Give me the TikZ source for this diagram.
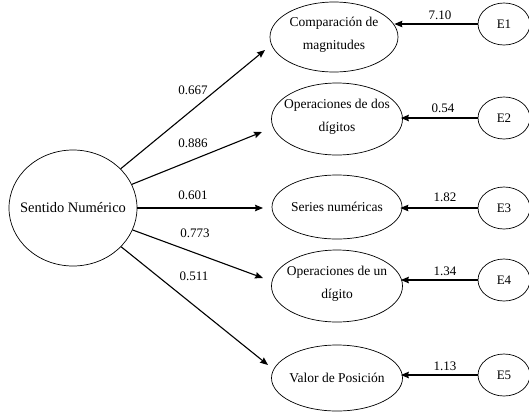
\documentclass[tikz,border=0pt]{standalone}
\usepackage{fontspec}
\setmainfont{Liberation Serif}
\usetikzlibrary{shapes.geometric,arrows.meta}
\begin{document}
\begin{tikzpicture}[x=1pt,y=-1pt,
  ell/.style={draw, ellipse, line width=0.7pt, inner sep=0pt},
  arr/.style={line width=1.1pt, -{Stealth[length=8pt,width=6.5pt,inset=1pt]}},
  lbl/.style={font=\fontsize{13}{15}\selectfont, inner sep=0pt},
  txt/.style={font=\fontsize{13.5}{23}\selectfont, align=center, inner sep=0pt},
  enode/.style={ell, minimum width=52pt, minimum height=42pt, font=\fontsize{13}{15}\selectfont}]
\useasboundingbox (0,0) rectangle (529,413);
% latent
\node[ell, minimum width=128pt, minimum height=116pt] (S) at (73,208) {};
\node[txt, font=\fontsize{14.5}{17}\selectfont] (St) at (S.center) {Sentido Numérico};
% indicators
\node[ell, minimum width=128pt, minimum height=70pt] (C1) at (334,37) {};
\node[txt] (C1t) at (334,35) {Comparación de\\magnitudes};
\node[ell, minimum width=131pt, minimum height=72pt] (C2) at (337,119) {};
\node[txt] (C2t) at (337,117) {Operaciones de dos\\dígitos};
\node[ell, minimum width=130pt, minimum height=64pt] (C3) at (337,207) {};
\node[txt] (C3t) at (C3.center) {Series numéricas};
\node[ell, minimum width=131pt, minimum height=72pt] (C4) at (337,286) {};
\node[txt] (C4t) at (337,284) {Operaciones de un\\dígito};
\node[ell, minimum width=131pt, minimum height=66pt] (C5) at (337,378) {};
\node[txt] (C5t) at (C5.center) {Valor de Posición};
% errors
\node[enode] (E1) at (504,24) {E1};
\node[enode] (E2) at (504,118) {E2};
\node[enode] (E3) at (504,208) {E3};
\node[enode] (E4) at (504,280) {E4};
\node[enode] (E5) at (504,375) {E5};
% arrow tips from latent
\coordinate (t1) at (265,50);
\coordinate (t2) at (262,132);
\coordinate (t3) at (263,208);
\coordinate (t4) at (263,278);
\coordinate (t5) at (268,365);
\draw[arr] (S) -- (t1);
\draw[arr] (S) -- (t2);
\draw[arr] (S) -- (t3);
\draw[arr] (S) -- (t4);
\draw[arr] (S) -- (t5);
\node[lbl] (l1) at (193,90) {0.667};
\node[lbl] (l2) at (193,143) {0.886};
\node[lbl] (l3) at (193,195) {0.601};
\node[lbl] (l4) at (195,233) {0.773};
\node[lbl] (l5) at (194,276) {0.511};
% error arrows
\draw[arr, shorten >=-4pt] (E1.west) -- (E1.west -| C1.east);
\draw[arr, shorten >=-2pt] (E2.west) -- (E2.west -| C2.east);
\draw[arr, shorten >=-2pt] (E3.west) -- (E3.west -| C3.east);
\draw[arr, shorten >=-2pt] (E4.west) -- (E4.west -| C4.east);
\draw[arr, shorten >=-2pt] (E5.west) -- (E5.west -| C5.east);
\node[lbl] (m1) at (440,15) {7.10};
\node[lbl] (m2) at (443,108) {0.54};
\node[lbl] (m3) at (445,197) {1.82};
\node[lbl] (m4) at (445,271) {1.34};
\node[lbl] (m5) at (445,366) {1.13};
\end{tikzpicture}
\end{document}
